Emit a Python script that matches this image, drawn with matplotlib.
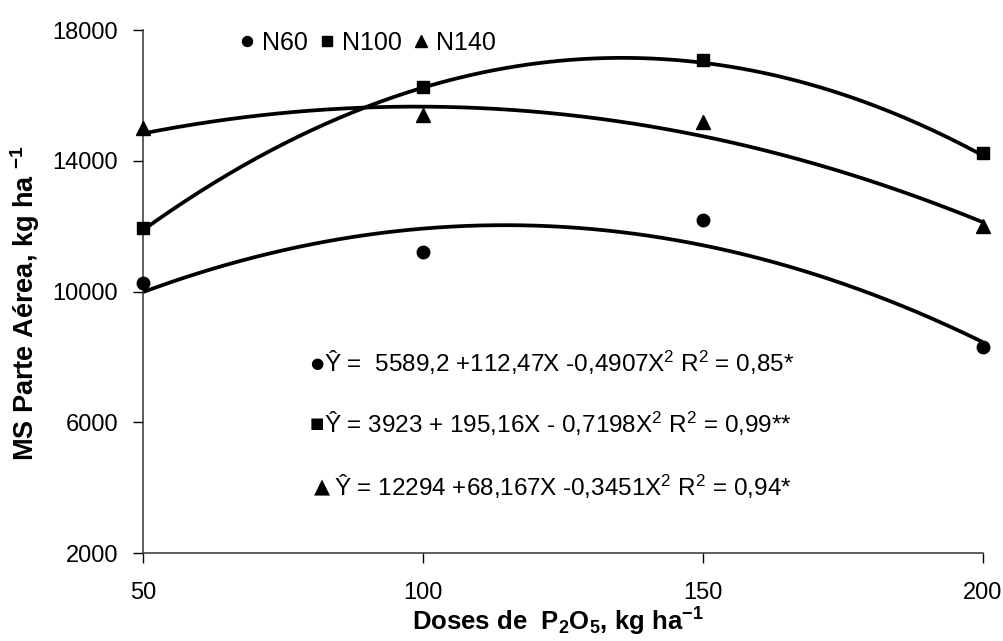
import numpy as np
import matplotlib
matplotlib.use("Agg")
import matplotlib.pyplot as plt
from matplotlib.lines import Line2D

plt.rcParams['font.family'] = ['Liberation Sans', 'DejaVu Sans']
plt.rcParams['mathtext.fontset'] = 'custom'
plt.rcParams['mathtext.rm'] = 'Liberation Sans'
plt.rcParams['mathtext.it'] = 'Liberation Sans:italic'
plt.rcParams['mathtext.bf'] = 'Liberation Sans:bold'

# ---- data ----
doses = [50, 100, 150, 200]
n60 = [10250, 11200, 12200, 8300]
n100 = [11950, 16250, 17100, 14250]
n140 = [15000, 15400, 15200, 12000]
# fitted quadratic coefficients (c2, c1, c0) as printed on the chart
coef_n60 = [-0.4907, 112.47, 5589.2]
coef_n100 = [-0.7198, 195.16, 3923]
coef_n140 = [-0.3451, 68.167, 12294]
series_names = ['N60', 'N100', 'N140']
eq_symbols = ['\u25cf', '\u25a0', '\u25b2']
equations = [
    "Ŷ =  5589,2 +112,47X -0,4907X$^2$ R$^2$ = 0,85*",
    "Ŷ = 3923 + 195,16X - 0,7198X$^2$ R$^2$ = 0,99**",
    "Ŷ = 12294 +68,167X -0,3451X$^2$ R$^2$ = 0,94*",
]
xticks = [50, 100, 150, 200]
yticks = [2000, 6000, 10000, 14000, 18000]

W, H = 1004, 641
fig = plt.figure(figsize=(W / 100, H / 100), dpi=100)
ax = fig.add_axes([0.1424, 0.137, 0.8366, 0.816])

xs = np.linspace(doses[0], doses[-1], 300)
markers = ['o', 's', '^']
msizes = [9, 8.5, 10]
handles = []
for ys, coef, m, ms, name in zip([n60, n100, n140], [coef_n60, coef_n100, coef_n140],
                                 markers, msizes, series_names):
    ax.plot(xs, np.polyval(coef, xs), color='black', lw=2.7, solid_capstyle='round', zorder=2)
    ax.plot(doses, ys, linestyle='none', marker=m, markersize=ms, color='black', zorder=3,
            clip_on=False)
    handles.append(Line2D([], [], linestyle='none', marker=m, markersize=ms * 0.8,
                          color='black', label=name))

ax.set_xlim(50, 200)
ax.set_ylim(2000, 18000)
ax.set_xticks(xticks)
ax.set_yticks(yticks)
ax.tick_params(axis='both', direction='out', length=7, width=1, colors='black',
               labelsize=17)
ax.tick_params(axis='x', pad=14)
ax.tick_params(axis='y', pad=11)
for side in ['top', 'right']:
    ax.spines[side].set_visible(False)
for side in ['left', 'bottom']:
    ax.spines[side].set_linewidth(1.1)
    ax.spines[side].set_color('#333333')

ax.set_xlabel(r"Doses de  P$_\mathbf{2}$O$_\mathbf{5}$, kg ha$^\mathbf{-1}$",
              fontsize=18.5, fontweight='bold')
ax.set_ylabel(r"MS Parte Aérea, kg ha $^\mathbf{-1}$", fontsize=19.5, fontweight='bold')
ax.xaxis.label.set_va('center')
ax.yaxis.label.set_va('center')
ax.xaxis.set_label_coords((558 - 143) / 840, (553 - 622) / 523)
ax.yaxis.set_label_coords((25 - 143) / 840, (553 - 303) / 523)

fig.legend(handles=handles, loc='center left', bbox_to_anchor=(240 / W, 1 - 43 / H),
           frameon=False, ncol=3, fontsize=18, handlelength=0.6, handletextpad=0.3,
           columnspacing=0.45, borderaxespad=0, borderpad=0)

eq_y = [363, 424, 487]
sym_x = [310, 310, 314]
sym_size = [11, 11, 15]
text_x = [324, 324, 334]
for sym, sx, ss, tx, txt, yp in zip(eq_symbols, sym_x, sym_size, text_x, equations, eq_y):
    fig.text(sx / W, 1 - yp / H, sym, fontsize=ss, family='DejaVu Sans',
             ha='left', va='center')
    fig.text(tx / W, 1 - yp / H, txt, fontsize=17.5, ha='left', va='center')

fig.savefig('out.png', dpi=100, facecolor='white')
